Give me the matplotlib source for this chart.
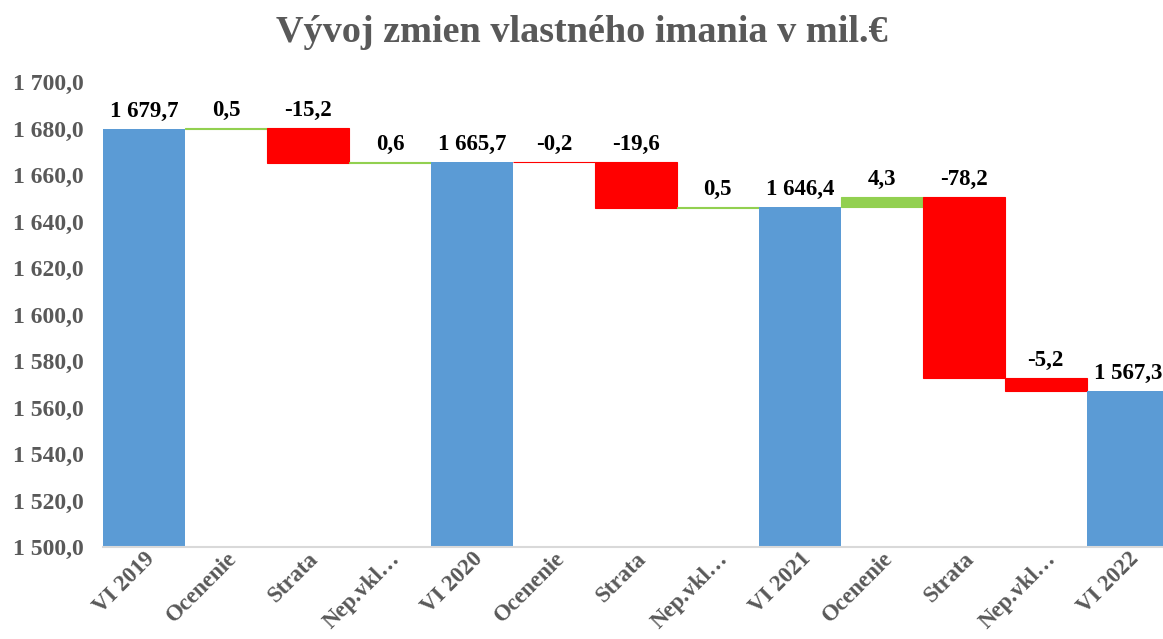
import matplotlib.pyplot as plt
import numpy as np
from matplotlib.ticker import FuncFormatter

CATEGORIES = ['VI 2019', 'Ocenenie', 'Strata', 'Nep.vkl…',
              'VI 2020', 'Ocenenie', 'Strata', 'Nep.vkl…',
              'VI 2021', 'Ocenenie', 'Strata', 'Nep.vkl…',
              'VI 2022']
VALUES = [1679.7, 0.5, -15.2, 0.6,
          1665.7, -0.2, -19.6, 0.5,
          1646.4, 4.3, -78.2, -5.2,
          1567.3]
IS_TOTAL = [True, False, False, False,
            True, False, False, False,
            True, False, False, False,
            True]

BLUE = '#5B9BD5'
RED = '#FF0000'
GREEN = '#92D050'
GREY = '#595959'
BASE = 1500.0


def fmt_num(v, decimals=1):
    s = '{:,.{}f}'.format(v, decimals)
    return s.replace(',', ' ').replace('.', ',')


plt.rcParams['font.family'] = ['Liberation Serif', 'DejaVu Serif']
plt.rcParams['font.weight'] = 'bold'

fig = plt.figure(figsize=(11.63, 6.39), dpi=100)
ax = fig.add_axes([103 / 1163, 1 - 547 / 639, 1060 / 1163, (547 - 82) / 639])

x = np.arange(len(CATEGORIES))
running = 0.0
for i, (v, tot) in enumerate(zip(VALUES, IS_TOTAL)):
    if tot:
        bottom, height, color = BASE, v - BASE, BLUE
        running = v
        top = v
        lw = 0
    else:
        start = running
        running = running + v
        bottom = min(start, running)
        height = abs(v)
        color = GREEN if v >= 0 else RED
        top = max(start, running)
        lw = 0.8
    ax.bar(x[i], height, bottom=bottom, width=1.0, color=color,
           edgecolor=color, linewidth=lw)
    ax.text(x[i], top + 3.0, fmt_num(v), ha='center', va='bottom',
            fontsize=16.5, fontweight='bold', color='black')

ax.set_xlim(-0.5, 12.43)
ax.set_ylim(1500, 1700)
ax.set_yticks(np.arange(1500, 1701, 20))
ax.yaxis.set_major_formatter(FuncFormatter(lambda v, p: fmt_num(v)))
ax.set_xticks(x)
ax.set_xticklabels(CATEGORIES, rotation=45, ha='right', va='top',
                   rotation_mode='anchor')

for lab in ax.get_yticklabels():
    lab.set_color(GREY)
    lab.set_fontsize(17)
    lab.set_fontweight('bold')
for lab in ax.get_xticklabels():
    lab.set_color(GREY)
    lab.set_fontsize(16.5)
    lab.set_fontweight('bold')

ax.tick_params(axis='both', length=0)
ax.tick_params(axis='y', pad=14)
ax.tick_params(axis='x', pad=1)
for side in ['top', 'right', 'left']:
    ax.spines[side].set_visible(False)
ax.spines['bottom'].set_color('#D9D9D9')
ax.spines['bottom'].set_linewidth(1.5)

fig.text(0.5, 1 - 32 / 639, 'Vývoj zmien vlastného imania v mil.€', ha='center', va='center',
         fontsize=27.5, fontweight='bold', color=GREY)

fig.savefig('out.png', dpi=100)
